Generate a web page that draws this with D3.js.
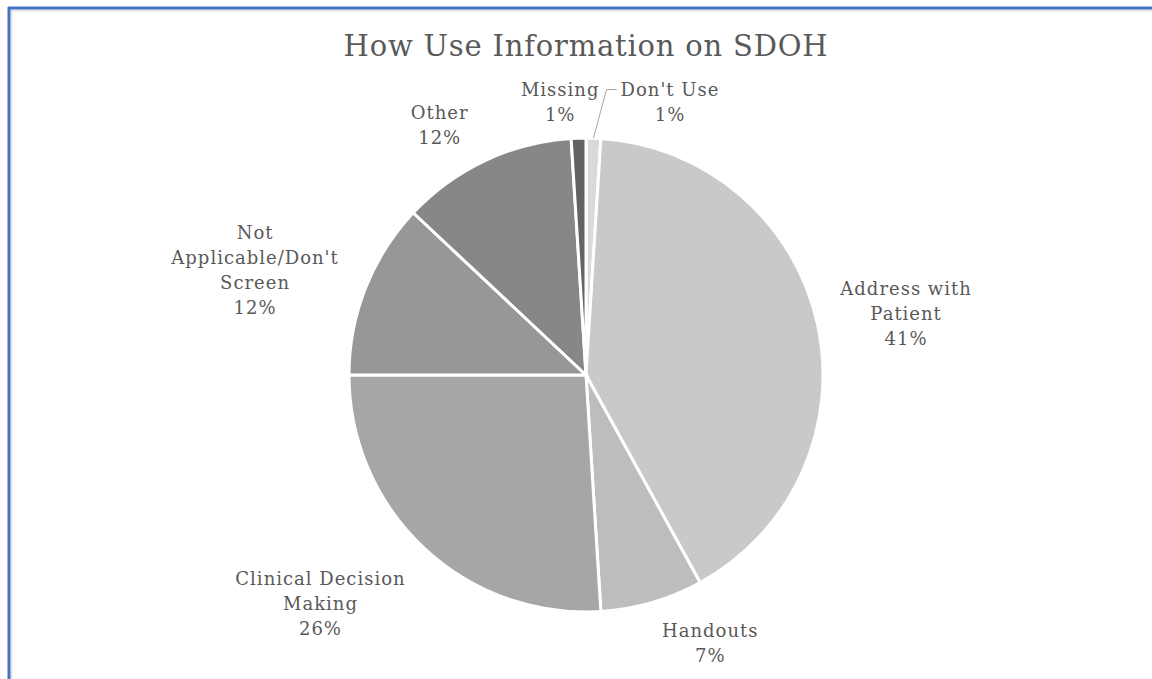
<!DOCTYPE html>
<html lang="en">
<head>
    <meta charset="UTF-8">
    <title>How Use Information on SDOH</title>
    <script src="https://d3js.org/d3.v7.min.js"></script>
    <style>
        body { margin: 0; background: #fff; }
        text { font-family: "DejaVu Serif", "Liberation Serif", serif; fill: #595959; }
    </style>
</head>
<body>
    <svg></svg>
<script>

    // chart data, clockwise from 12 o'clock
    const categories = ["Don't Use", "Address with Patient", "Handouts", "Clinical Decision Making",
                        "Not Applicable/Don't Screen", "Other", "Missing"];
    const values = [1, 41, 7, 26, 12, 12, 1];
    const labelLines = [["Don't Use"], ["Address with", "Patient"], ["Handouts"],
                        ["Clinical Decision", "Making"], ["Not", "Applicable/Don't", "Screen"],
                        ["Other"], ["Missing"]];
    const colors = ["#d9d9d9", "#c9c9c9", "#bdbdbd", "#a6a6a6", "#979797", "#878787", "#636363"];

    // label placement: angle nudge (degrees) and distance as a multiple of the radius
    const labelNudge = [15.3, 1.8, -8.6, 6, -4, -5.2, -3.6];
    const labelDist = [1.205, 1.375, 1.25, 1.48, 1.465, 1.22, 1.157];

    const width = 1152;
    const height = 679;
    const cx = 586, cy = 375, radius = 237;
    const lineH = 25;

    const svg = d3.select("svg")
        .attr("width", width)
        .attr("height", height);

    // frame: blue line top and left, with a faint shadow
    svg.append("line").attr("x1", 10).attr("x2", width).attr("y1", 10.5).attr("y2", 10.5)
        .style("stroke", "#e4e4e4").style("stroke-width", 2);
    svg.append("line").attr("x1", 11.5).attr("x2", 11.5).attr("y1", 10).attr("y2", height)
        .style("stroke", "#e4e4e4").style("stroke-width", 2);
    svg.append("line").attr("x1", 8).attr("x2", width).attr("y1", 8).attr("y2", 8)
        .style("stroke", "#4472c4").style("stroke-width", 3);
    svg.append("line").attr("x1", 9).attr("x2", 9).attr("y1", 7).attr("y2", height)
        .style("stroke", "#4472c4").style("stroke-width", 3);

    svg.append("text")
        .attr("x", cx)
        .attr("y", 56)
        .attr("text-anchor", "middle")
        .style("font-size", "29px")
        .style("letter-spacing", "0.8px")
        .text("How Use Information on SDOH");

    const data = categories.map((c, i) => ({ name: c, value: values[i], i: i }));

    const pie = d3.pie().value(d => d.value).sort(null);
    const arcs = pie(data);
    const arc = d3.arc().innerRadius(0).outerRadius(radius);

    const g = svg.append("g").attr("transform", `translate(${cx}, ${cy})`);

    g.selectAll(".slice")
        .data(arcs)
        .join("path")
        .attr("class", "slice")
        .attr("d", arc)
        .style("fill", d => colors[d.data.i])
        .style("stroke", "#fff")
        .style("stroke-width", 3);

    const deg = Math.PI / 180;
    const labelPos = d => {
        const a = (d.startAngle + d.endAngle) / 2 + labelNudge[d.data.i] * deg;
        const r = radius * labelDist[d.data.i];
        return [Math.sin(a) * r, -Math.cos(a) * r];
    };

    const labels = g.selectAll(".lbl")
        .data(arcs)
        .join("text")
        .attr("class", "lbl")
        .attr("text-anchor", "middle")
        .style("font-size", "18px")
        .style("letter-spacing", "1px")
        .each(function (d) {
            const [x, y] = labelPos(d);
            const lines = labelLines[d.data.i].concat([d.data.value + "%"]);
            const y0 = y - (lines.length - 1) * lineH / 2 + 6;
            const t = d3.select(this);
            lines.forEach((s, k) => {
                t.append("tspan").attr("x", x).attr("y", y0 + k * lineH).text(s);
            });
        });

    // leader line for the small "Don't Use" slice
    const du = arcs[0];
    const duMid = (du.startAngle + du.endAngle) / 2;
    const duPos = labelPos(du);
    const duBox = labels.filter(d => d.data.i === 0).node().getBBox();
    const yLead = duPos[1] - lineH / 2;
    g.append("polyline")
        .attr("points", [
            [Math.sin(duMid) * radius, -Math.cos(duMid) * radius],
            [duBox.x - 14, yLead],
            [duBox.x - 4, yLead]
        ].map(p => p.join(",")).join(" "))
        .style("fill", "none")
        .style("stroke", "#a6a6a6")
        .style("stroke-width", 1);

</script>
</body>
</html>
